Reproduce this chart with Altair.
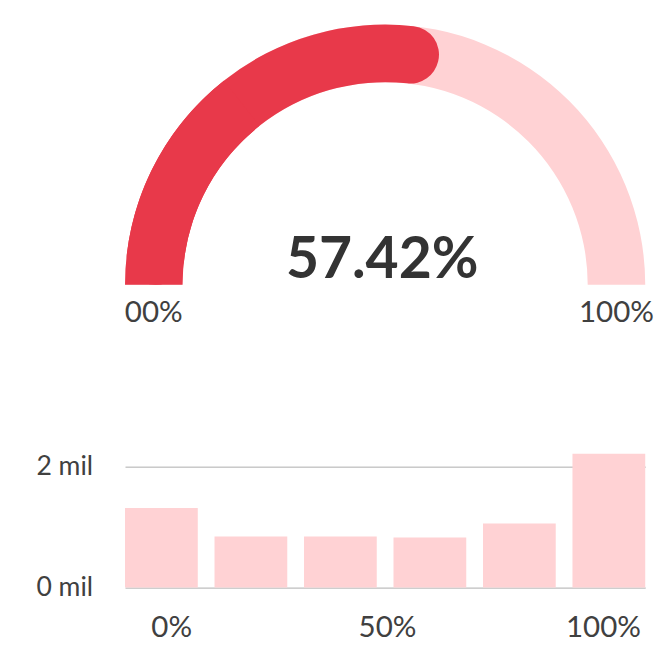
import math
import altair as alt
import pandas as pd

# ---- data ----
gauge_value = 57.42
gauge_range = [0, 100]
gauge_end_positions = [0, 100]
gauge_end_labels = ["00%", "100%"]

bin_ids = ["b1", "b2", "b3", "b4", "b5", "b6"]
bin_counts = [1320, 848, 848, 832, 1060, 2215]
x_tick_values = [0, 50, 100]
y_tick_values = [0, 2000]

# ---- style ----
RED = "#E8394A"
PINK = "#FFD2D4"
DARK = "#333333"
LABEL = "#404040"
GRID = "#ABABAB"
FONT = "Lato"

W = 529
GH = 265
BH = 136
CX = W / 2
CY = GH
R_OUT = 264.5
R_IN = 206
R_MID = (R_OUT + R_IN) / 2

theta_scale = alt.Scale(domain=gauge_range, range=[-math.pi / 2, math.pi / 2])

track_df = pd.DataFrame({"start": [gauge_range[0]], "end": [gauge_range[1]]})
value_df = pd.DataFrame({"start": [gauge_range[0]], "end": [gauge_value]})
base_df = pd.DataFrame({"start": [gauge_range[0]], "end": [gauge_value / 2]})
ends_df = pd.DataFrame({"pos": gauge_end_positions, "label": gauge_end_labels})
center_df = pd.DataFrame({"v": [gauge_value]})


def arc_layer(df, color, corner):
    return alt.Chart(df).mark_arc(
        radius=R_OUT, radius2=R_IN, cornerRadius=corner, color=color
    ).encode(
        theta=alt.Theta("start:Q", scale=theta_scale, stack=False),
        theta2="end:Q",
        x=alt.value(CX),
        y=alt.value(CY),
    )


track = arc_layer(track_df, PINK, 0)
value_arc = arc_layer(value_df, RED, 29)
base_arc = arc_layer(base_df, RED, 0)

end_labels = alt.Chart(ends_df).mark_text(
    radius=R_MID, dy=38, baseline="alphabetic", fontSize=30, font=FONT, color=LABEL
).encode(
    theta=alt.Theta("pos:Q", scale=theta_scale, stack=False),
    text="label:N",
    x=alt.value(CX),
    y=alt.value(CY),
)

center_text = alt.Chart(center_df).transform_calculate(
    t="format(datum.v, '.2f') + '%'"
).mark_text(
    fontSize=58, fontWeight="bold", font=FONT, color=DARK,
    baseline="alphabetic", dy=-7, dx=-3
).encode(text="t:N", x=alt.value(CX), y=alt.value(CY))

gauge = alt.layer(track, value_arc, base_arc, end_labels, center_text).properties(
    width=W, height=GH
)

# ---- histogram ----
bars_df = pd.DataFrame({"bin": bin_ids, "count": bin_counts})
ticks_df = pd.DataFrame({"t": x_tick_values})

bars = alt.Chart(bars_df).mark_bar(color=PINK).encode(
    x=alt.X(
        "bin:N",
        sort=bin_ids,
        axis=None,
        scale=alt.Scale(paddingInner=0.187, paddingOuter=0),
    ),
    y=alt.Y(
        "count:Q",
        scale=alt.Scale(nice=False, zero=True),
        axis=alt.Axis(
            values=y_tick_values,
            labelExpr="format(datum.value / 1000, 'd') + ' mil'",
            grid=True,
            gridColor=GRID,
            domain=False,
            ticks=False,
            labelPadding=33,
            labelFontSize=27,
            labelFont=FONT,
            labelColor=LABEL,
            title=None,
        ),
    ),
)

xlabels = alt.Chart(ticks_df).mark_point(opacity=0).encode(
    x=alt.X(
        "t:Q",
        scale=alt.Scale(domain=[-10.7, 109.8], nice=False, zero=False),
        axis=alt.Axis(
            values=x_tick_values,
            labelExpr="datum.value + '%'",
            grid=False,
            domain=False,
            ticks=False,
            labelPadding=26,
            labelFontSize=30,
            labelFont=FONT,
            labelColor=LABEL,
            title=None,
        ),
    )
)

hist = alt.layer(bars, xlabels).resolve_scale(x="independent").properties(
    width=W, height=BH
)

chart = alt.vconcat(gauge, hist, spacing=172, bounds="flush").properties(
    padding={"left": 28, "top": 11, "right": 5, "bottom": 0}
).configure(font=FONT).configure_view(stroke=None)

chart.save("out.html", embed_options={"renderer": "svg", "actions": False})
